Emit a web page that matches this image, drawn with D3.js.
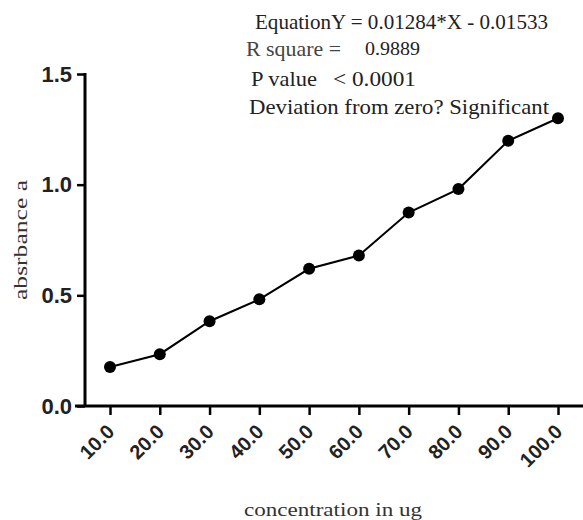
<!DOCTYPE html>
<html>
<head>
<meta charset="utf-8">
<script src="https://cdn.jsdelivr.net/npm/d3@7"></script>
<style>
  body { margin: 0; background: #fff; }
  svg { display: block; }
</style>
</head>
<body>
<div id="chart"></div>
<script>
// concentration categories (ug) and measured absorbance
var concentrations = ["10.0", "20.0", "30.0", "40.0", "50.0", "60.0", "70.0", "80.0", "90.0", "100.0"];
var absorbance = [0.176, 0.234, 0.383, 0.482, 0.62, 0.68, 0.874, 0.98, 1.198, 1.30];
var yTicks = [0, 0.5, 1.0, 1.5];

var width = 583, height = 520;
var sans = "Liberation Sans, Arial, sans-serif";
var serif = "Liberation Serif, Times New Roman, serif";

var svg = d3.select("#chart").append("svg")
  .attr("width", width)
  .attr("height", height);

var x = d3.scalePoint()
  .domain(concentrations)
  .range([110, 558]);

var y = d3.scaleLinear()
  .domain([0, 1.5])
  .range([406, 74]);

// y axis
var yAxis = svg.append("g")
  .attr("transform", "translate(85,0)")
  .call(d3.axisLeft(y).tickValues(yTicks).tickFormat(d3.format(".1f")).tickSizeOuter(0).tickSize(8).tickPadding(5));
yAxis.select(".domain").attr("stroke", "#000").attr("stroke-width", 3)
  .attr("d", "M0," + (y(1.5) - 1) + "V" + y(0));
yAxis.selectAll(".tick line").attr("stroke", "#000").attr("stroke-width", 2.5);
yAxis.selectAll(".tick text")
  .attr("font-family", sans)
  .attr("font-weight", "bold")
  .attr("font-size", 22)
  .attr("fill", "#222");

// x axis
var xAxis = svg.append("g")
  .attr("transform", "translate(0,406)")
  .call(d3.axisBottom(x).tickSizeOuter(0).tickSize(9));
xAxis.select(".domain").attr("stroke", "#000").attr("stroke-width", 3)
  .attr("d", "M75,0H583");
xAxis.selectAll(".tick line").attr("stroke", "#000").attr("stroke-width", 2.5);
xAxis.selectAll(".tick text")
  .attr("font-family", sans)
  .attr("font-weight", "bold")
  .attr("font-size", 20)
  .attr("fill", "#222")
  .attr("text-anchor", "end")
  .attr("dy", null)
  .attr("y", null)
  .attr("transform", "translate(5,27) rotate(-45)");

// data line + markers
var line = d3.line()
  .x(function(d, i) { return x(concentrations[i]); })
  .y(function(d) { return y(d); });

svg.append("path")
  .datum(absorbance)
  .attr("fill", "none")
  .attr("stroke", "#000")
  .attr("stroke-width", 2)
  .attr("d", line);

svg.selectAll(".dot")
  .data(absorbance)
  .enter().append("circle")
  .attr("class", "dot")
  .attr("cx", function(d, i) { return x(concentrations[i]); })
  .attr("cy", function(d) { return y(d); })
  .attr("r", 6)
  .attr("fill", "#000");

// axis titles
svg.append("text")
  .attr("transform", "translate(27,240) rotate(-90)")
  .attr("text-anchor", "middle")
  .attr("font-family", serif)
  .attr("font-size", 19)
  .attr("fill", "#333")
  .attr("textLength", 120)
  .attr("lengthAdjust", "spacingAndGlyphs")
  .text("absrbance a");

svg.append("text")
  .attr("x", 333)
  .attr("y", 516)
  .attr("text-anchor", "middle")
  .attr("font-family", serif)
  .attr("font-size", 19)
  .attr("fill", "#333")
  .attr("textLength", 178)
  .attr("lengthAdjust", "spacingAndGlyphs")
  .text("concentration in ug");

// regression results
function note(txt, xPos, yPos, size, len) {
  var t = svg.append("text")
    .attr("x", xPos)
    .attr("y", yPos)
    .attr("font-family", serif)
    .attr("font-size", size)
    .attr("fill", "#222")
    .text(txt);
  if (len) t.attr("textLength", len).attr("lengthAdjust", "spacingAndGlyphs");
  return t;
}
note("EquationY = 0.01284*X - 0.01533", 255, 29, 21, 293);
note("R square =", 246, 56, 21, 95).attr("fill", "#444");
note("0.9889", 365, 55, 19, 55);
note("P value", 251, 86, 22, 66);
note("< 0.0001", 333, 86, 21, 83);
note("Deviation from zero?  Significant", 249, 114, 21, 300);
</script>
</body>
</html>
